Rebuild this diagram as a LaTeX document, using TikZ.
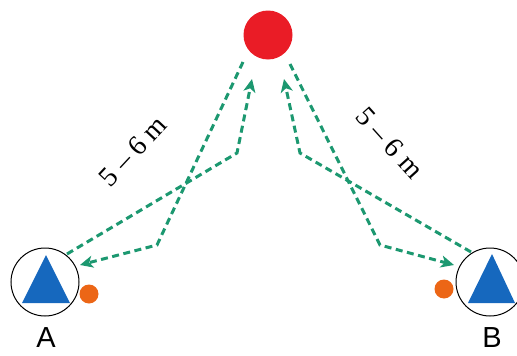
\documentclass[tikz,border=0pt]{standalone}
\usepackage{fontspec}
\setmainfont{Liberation Serif}
\newfontfamily\labelsans{Liberation Sans}
\usetikzlibrary{arrows.meta}
\definecolor{pathgreen}{RGB}{28,152,112}
\definecolor{dotred}{RGB}{234,28,38}
\definecolor{tribrue}{RGB}{22,104,190}
\definecolor{dotorange}{RGB}{236,102,22}
\tikzset{
  dashpath/.style={draw=pathgreen, line width=3pt, dash pattern=on 7pt off 4.5pt},
  arrowpath/.style={dashpath, -{Stealth[length=13pt,width=12pt,inset=3.5pt]}},
  ring/.style={circle, draw=black, line width=1pt, minimum size=68pt, inner sep=0pt},
  reddot/.style={circle, fill=dotred, minimum size=49pt, inner sep=0pt},
  orangedot/.style={circle, fill=dotorange, minimum size=19pt, inner sep=0pt},
  dist/.style={font=\fontsize{28}{30}\selectfont, inner sep=1pt},
  letter/.style={font=\labelsans\fontsize{29}{30}\selectfont}
}
\begin{document}
\begin{tikzpicture}[x=1pt,y=-1pt]
\useasboundingbox (0,0) rectangle (517,356);
% red target
\node[reddot] (R) at (268,35) {};
% stations
\node[ring] (A) at (45,282) {};
\node[ring] (B) at (490,282) {};
\fill[tribrue] (46,255) -- (70,303) -- (22,303) -- cycle;
\fill[tribrue] (492,254) -- (515,303) -- (468,303) -- cycle;
\node[orangedot] (oA) at (89,294) {};
\node[orangedot] (oB) at (444,289) {};
\node[letter] (lA) at (46,338) {A};
\node[letter] (lB) at (492,338) {B};
% corner and end coordinates
\coordinate (a1) at (67,254);
\coordinate (ca1) at (237,153);
\coordinate (ta1) at (252,79);
\coordinate (r1) at (243,62);
\coordinate (ca2) at (157,245);
\coordinate (ta2) at (80,265);
\coordinate (b1) at (471,252);
\coordinate (cb1) at (300,153);
\coordinate (tb1) at (284,79);
\coordinate (r2) at (290,64);
\coordinate (cb2) at (380,245);
\coordinate (tb2) at (454,265);
% paths
\draw[arrowpath] (a1) -- (ca1) -- (ta1);
\draw[arrowpath] (r1) -- (ca2) -- (ta2);
\draw[arrowpath] (b1) -- (cb1) -- (tb1);
\draw[arrowpath] (r2) -- (cb2) -- (tb2);
% distance labels
\node[dist, rotate=47] (dL) at (133,151) {5 -- 6 m};
\node[dist, rotate=-48] (dR) at (390,143) {5 -- 6 m};
\end{tikzpicture}
\end{document}
